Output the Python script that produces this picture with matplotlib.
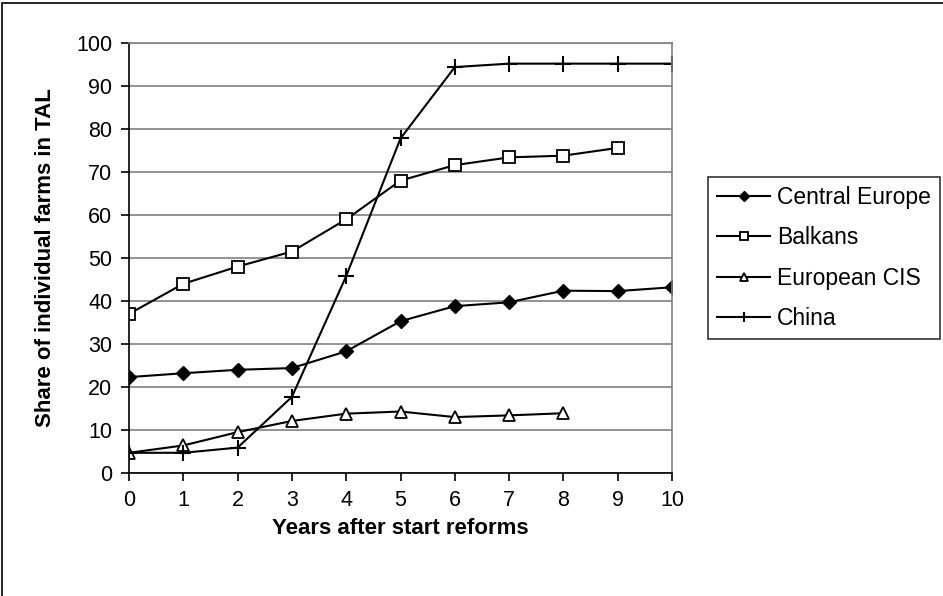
import matplotlib.pyplot as plt
from matplotlib.patches import Rectangle

plt.rcParams['font.family'] = ['Liberation Sans', 'DejaVu Sans']

# Доля индивидуальных хозяйств (%) по годам после начала реформ
years = list(range(0, 11))
central_europe = [22.3, 23.2, 24.0, 24.4, 28.3, 35.3, 38.8, 39.7, 42.4, 42.3, 43.2]
balkans = [37.0, 44.0, 48.0, 51.5, 59.0, 68.0, 71.6, 73.4, 73.8, 75.6]
european_cis = [4.7, 6.4, 9.5, 12.1, 13.8, 14.3, 13.0, 13.4, 13.9]
china = [4.7, 4.7, 5.9, 17.7, 45.8, 77.8, 94.4, 95.2, 95.2, 95.2, 95.2]

fig = plt.figure(figsize=(9.43, 5.96), dpi=100)
ax = fig.add_axes([129 / 943, 123 / 596, 543 / 943, 430 / 596])

ax.plot(years, central_europe, '-', color='black', lw=1.5, marker='D', ms=7,
        mfc='black', mec='black', label='Central Europe')
ax.plot(years[:len(balkans)], balkans, '-', color='black', lw=1.5, marker='s', ms=8,
        mfc='white', mec='black', mew=1.3, label='Balkans')
ax.plot(years[:len(european_cis)], european_cis, '-', color='black', lw=1.5, marker='^',
        ms=8, mfc='white', mec='black', mew=1.3, label='European CIS')
ax.plot(years, china, '-', color='black', lw=1.5, marker='+', ms=11,
        mew=1.5, label='China')

ax.set_xlim(0, 10)
ax.set_ylim(0, 100)
ax.set_xticks(range(0, 11))
ax.set_yticks(range(0, 101, 10))
ax.yaxis.grid(True, color='#808080', lw=1.2)
ax.set_axisbelow(True)

for side in ['top', 'right']:
    ax.spines[side].set_color('#808080')
    ax.spines[side].set_linewidth(1.2)
ax.spines['left'].set_linewidth(1.2)
ax.spines['bottom'].set_linewidth(1.2)
ax.tick_params(axis='both', direction='out', length=6, width=1.2, labelsize=15.5,
               pad=6, colors='black')

ax.set_xlabel('Years after start reforms', fontsize=16, fontweight='bold')
ax.set_ylabel('Share of individual farms in TAL', fontsize=16, fontweight='bold')
ax.xaxis.set_label_coords(0.5, -0.105)
ax.yaxis.set_label_coords(-0.135, 0.5)

leg = fig.legend(loc='upper left', bbox_to_anchor=(708 / 943, 1 - 177 / 596),
                 fontsize=16.5, frameon=True, fancybox=False, edgecolor='black',
                 handlelength=2.3, handletextpad=0.3, labelspacing=0.75,
                 borderpad=0.4, borderaxespad=0, markerscale=0.7)
leg.get_frame().set_linewidth(1.2)

# рамка вокруг всей диаграммы
fig.patches.append(Rectangle((2 / 943, -0.1), 1.2, 1.1 - 3 / 596, transform=fig.transFigure,
                             fill=False, edgecolor='black', lw=1.2, clip_on=False))

fig.savefig('out.png', dpi=100)
